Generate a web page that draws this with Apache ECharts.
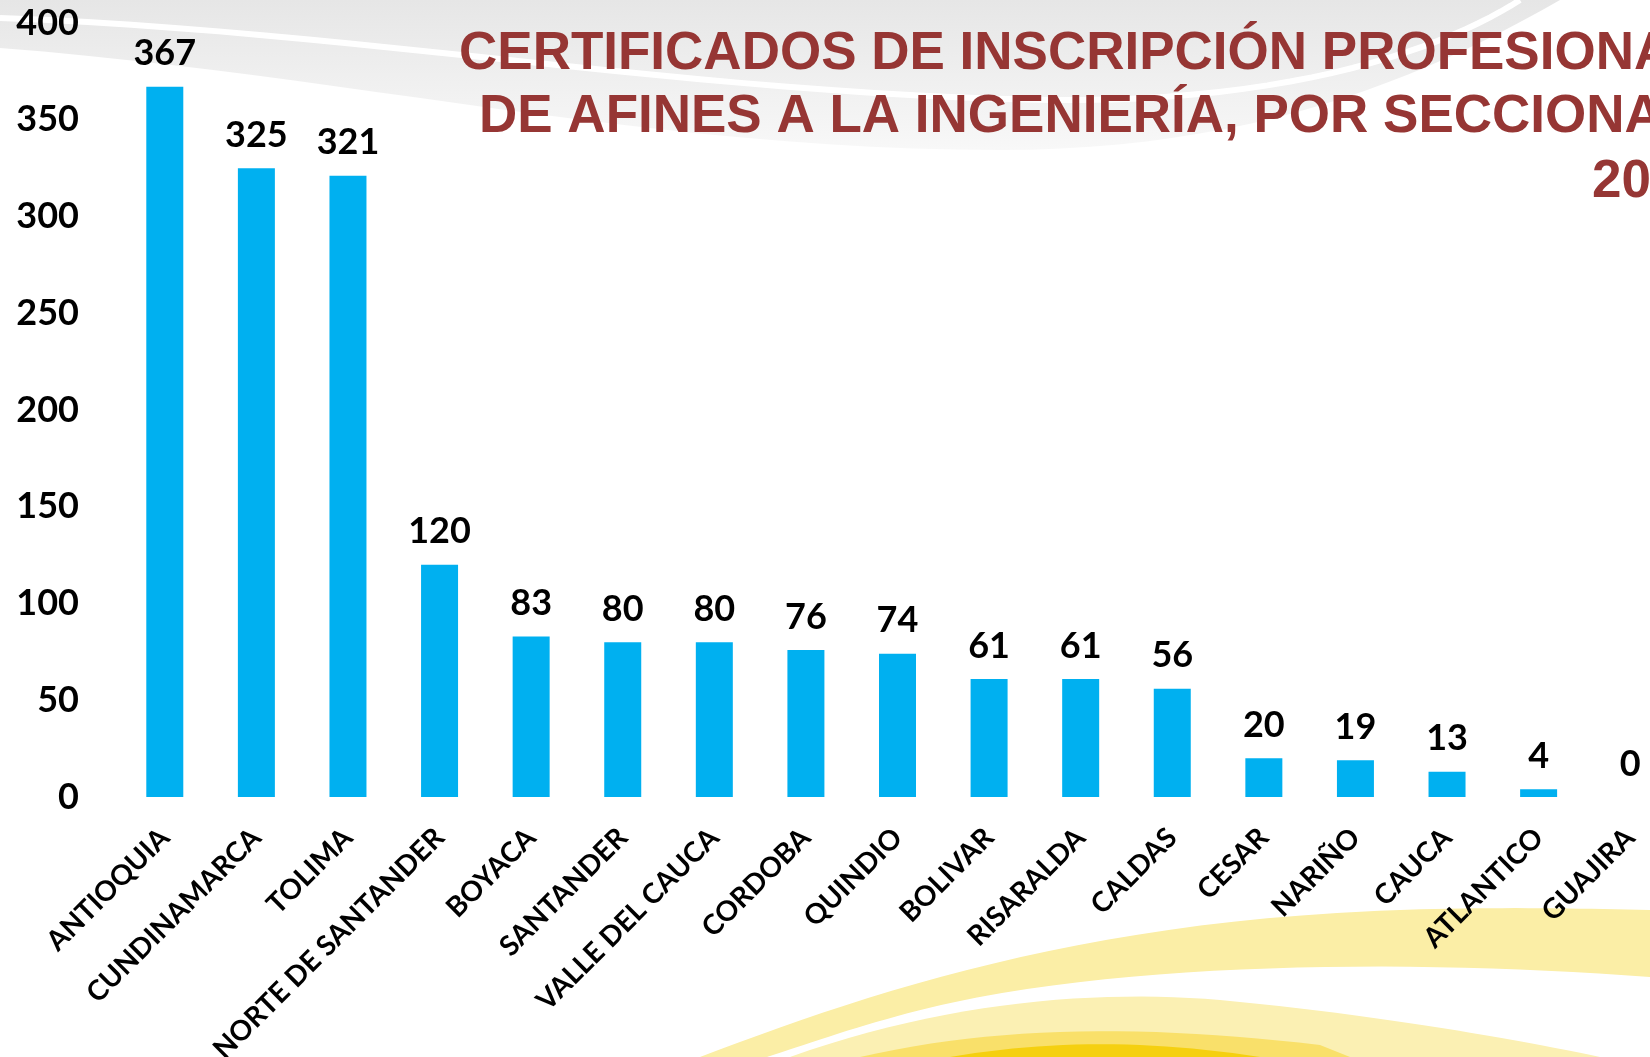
<!DOCTYPE html>
<html>
<head>
<meta charset="utf-8">
<script src="https://cdn.jsdelivr.net/npm/echarts@6/dist/echarts.min.js"></script>
<style>
html,body{margin:0;padding:0;background:#fff;}
#chart{width:1650px;height:1057px;}
</style>
</head>
<body>
<div id="chart"></div>
<script>
const categories = ["ANTIOQUIA","CUNDINAMARCA","TOLIMA","NORTE DE SANTANDER","BOYACA","SANTANDER","VALLE DEL CAUCA","CORDOBA","QUINDIO","BOLIVAR","RISARALDA","CALDAS","CESAR","NARIÑO","CAUCA","ATLANTICO","GUAJIRA"];
const values = [367,325,321,120,83,80,80,76,74,61,61,56,20,19,13,4,0];
const yTicks = [0,50,100,150,200,250,300,350,400];
const titleLines = ["CERTIFICADOS DE INSCRIPCIÓN PROFESIONAL","DE AFINES A LA INGENIERÍA, POR SECCIONAL","20"];

// decorative background shape helper: a path of cubic bezier segments sampled to points
function shapePts(start, segs){
  const pts=[start];
  let p0=start;
  segs.forEach(function(s){
    if(s.length===1){ pts.push(s[0]); p0=s[0]; return; }
    const p1=s[0],p2=s[1],p3=s[2];
    for(let i=1;i<=24;i++){
      const t=i/24,u=1-t;
      pts.push([u*u*u*p0[0]+3*u*u*t*p1[0]+3*u*t*t*p2[0]+t*t*t*p3[0],
                u*u*u*p0[1]+3*u*u*t*p1[1]+3*u*t*t*p2[1]+t*t*t*p3[1]]);
    }
    p0=p3;
  });
  return pts;
}
function poly(pts, style){ return {type:'polygon', z:-10, silent:true, shape:{points:pts}, style:style}; }
function line(pts, style){ return {type:'polyline', z:-9, silent:true, shape:{points:pts}, style:style}; }

const chart = echarts.init(document.getElementById('chart'), null, {renderer:'canvas'});
const titleStyle = {fontFamily:'"Liberation Sans", Arial, sans-serif', fontWeight:'bold', fontSize:53, fill:'#963634', textAlign:'left', textVerticalAlign:'middle'};
const bg = [
  poly(shapePts([0,0],[[[0,48]],[[350,75],[650,150],[1000,150]],[[1250,150],[1420,80],[1560,0]]]),
    {fill:new echarts.graphic.LinearGradient(0,0,0,1,[{offset:0,color:'#e6e6e6'},{offset:1,color:'#f8f8f8'}])}),
  line(shapePts([0,18],[[[350,30],[700,95],[1050,100]],[[1300,103],[1450,45],[1520,0]]]), {stroke:'#ffffff', lineWidth:6, fill:null}),
  line(shapePts([1150,150],[[[1350,120],[1500,60],[1600,0]]]), {stroke:'#ffffff', lineWidth:5, fill:null}),
  poly(shapePts([700,1057],[[[850,1000],[1050,930],[1337,913]],[[1450,906],[1560,908],[1650,910]],[[1650,977]],[[1450,962],[1200,960],[1002,993]],[[900,1010],[820,1040],[767,1057]]]), {fill:'#FBEEA6'}),
  poly(shapePts([790,1057],[[[950,1000],[1100,990],[1220,1000]],[[1380,1015],[1520,1040],[1600,1057]]]), {fill:'#FBF0B3'}),
  poly(shapePts([860,1057],[[[1000,1025],[1150,1025],[1320,1045]],[[1350,1057]]]), {fill:'#F9E06A'}),
  poly(shapePts([950,1057],[[[1050,1040],[1150,1040],[1260,1057]]]), {fill:'#F5D010'})
];
const texts = [
  {type:'text', x:459, y:54, z:10, style:Object.assign({text:titleLines[0]}, titleStyle)},
  {type:'text', x:479, y:117, z:10, style:Object.assign({text:titleLines[1]}, titleStyle)},
  {type:'text', x:1592, y:182, z:10, style:Object.assign({text:titleLines[2]}, titleStyle)}
];
const option = {
  backgroundColor:'#ffffff',
  animation:false,
  graphic:bg.concat(texts),
  grid:{left:119, width:1557, top:23, bottom:260, containLabel:false, outerBoundsMode:'none'},
  xAxis:{
    type:'category', data:categories,
    axisLine:{show:false}, axisTick:{show:false},
    axisLabel:{interval:0, rotate:45, margin:36, color:'#000', fontFamily:'Lato, "Open Sans", sans-serif', fontWeight:'bold', fontSize:28}
  },
  yAxis:{
    type:'value', min:0, max:400, interval:50,
    axisLine:{show:false}, axisTick:{show:false}, splitLine:{show:false},
    axisLabel:{margin:40, padding:[4,0,0,0], color:'#000', fontFamily:'Lato, "Open Sans", sans-serif', fontWeight:'bold', fontSize:36,
      formatter:function(v){return yTicks.indexOf(v)>=0 ? String(v) : '';}}
  },
  series:[{
    type:'bar', data:values, barWidth:37,
    itemStyle:{color:'#00B0F0'},
    label:{show:true, position:'top', distance:15, color:'#000', fontFamily:'Lato, "Open Sans", sans-serif', fontWeight:'bold', fontSize:36}
  }]
};
chart.setOption(option);
</script>
</body>
</html>
